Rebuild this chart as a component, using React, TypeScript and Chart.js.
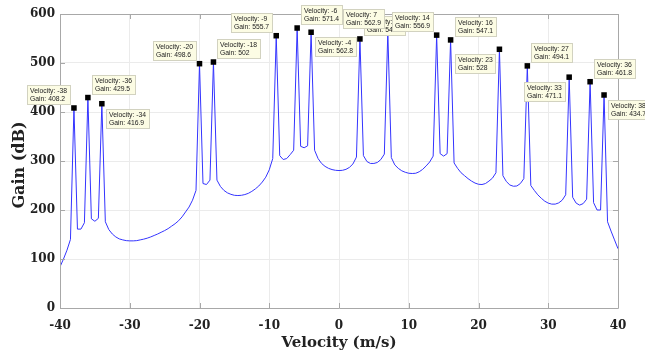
import React, { useEffect, useRef } from "react";
import { Chart, registerables } from "chart.js";

Chart.register(...registerables);

// Velocity samples (m/s)
const velocity = [
  -40, -39.5, -39, -38.5, -38, -37.5, -37, -36.5, -36, -35.5, -35, -34.5, -34, -33.5, -33, -32.5,
  -32, -31.5, -31, -30.5, -30, -29.5, -29, -28.5, -28, -27.5, -27, -26.5, -26, -25.5, -25, -24.5,
  -24, -23.5, -23, -22.5, -22, -21.5, -21, -20.5, -20, -19.5, -19, -18.5, -18, -17.5, -17, -16.5,
  -16, -15.5, -15, -14.5, -14, -13.5, -13, -12.5, -12, -11.5, -11, -10.5, -10, -9.5, -9, -8.5,
  -8, -7.5, -7, -6.5, -6, -5.5, -5, -4.5, -4, -3.5, -3, -2.5, -2, -1.5, -1, -0.5,
  0, 0.5, 1, 1.5, 2, 2.5, 3, 3.5, 4, 4.5, 5, 5.5, 6, 6.5, 7, 7.5,
  8, 8.5, 9, 9.5, 10, 10.5, 11, 11.5, 12, 12.5, 13, 13.5, 14, 14.5, 15, 15.5,
  16, 16.5, 17, 17.5, 18, 18.5, 19, 19.5, 20, 20.5, 21, 21.5, 22, 22.5, 23, 23.5,
  24, 24.5, 25, 25.5, 26, 26.5, 27, 27.5, 28, 28.5, 29, 29.5, 30, 30.5, 31, 31.5,
  32, 32.5, 33, 33.5, 34, 34.5, 35, 35.5, 36, 36.5, 37, 37.5, 38, 38.5, 39, 39.5, 40,
];

// Gain (dB) at each velocity sample
const gain = [
  84, 100, 118, 140, 408.2, 161, 161, 174, 429.5, 182, 177, 183, 416.9, 176, 160, 151,
  145, 141, 139, 137.5, 137, 137, 137.5, 139, 140.5, 142.5, 145, 148, 151, 154.5, 158, 162,
  167, 172, 178, 186, 196, 206, 220, 240, 498.6, 254, 252, 261, 502, 261, 248, 240,
  235, 232, 230, 229.5, 230, 231.5, 234, 238, 243, 249, 257, 267, 282, 305, 555.7, 311,
  303, 305, 313, 322, 571.4, 330, 327, 331, 562.8, 322, 305, 295, 289, 285, 282.5, 281,
  280.5, 281, 283, 287, 294, 308, 549.1, 311, 299, 295, 295, 297, 303, 314, 562.9, 307,
  292, 285, 280, 277, 275, 274.5, 275, 278, 283, 290, 298, 310, 556.9, 315, 310, 315,
  547.1, 296, 285, 276, 270, 264, 259, 255, 252.5, 252, 254, 259, 265, 276, 528, 270,
  258, 251, 248.5, 249, 254, 264, 494.1, 250, 240, 231, 224, 218, 214, 212, 212, 214.5,
  220, 231, 471.1, 226, 214, 210, 213, 222, 461.8, 215, 200, 200, 434.7, 176, 157, 139, 121,
];

// Data tips (marked peaks)
const peakVelocity = [-38, -36, -34, -20, -18, -9, -6, -4, 3, 7, 14, 16, 23, 27, 33, 36, 38];
const peakGain = [408.2, 429.5, 416.9, 498.6, 502, 555.7, 571.4, 562.8, 549.1, 562.9, 556.9, 547.1, 528, 494.1, 471.1, 461.8, 434.7];
// Where each data tip box sits relative to its marker (style only)
const tipPlacement = ["ul", "ur", "lr", "ul", "ur", "ul", "ur", "lr", "ur", "ul", "ul", "ur", "ll", "ur", "ll", "ur", "lr"];

const xTicks = [-40, -30, -20, -10, 0, 10, 20, 30, 40];
const yTicks = [0, 100, 200, 300, 400, 500, 600];

const xTitle = "Velocity (m/s)";
const yTitle = "Gain (dB)";

const TEXT = "#222222";
const AXIS = "#a8a8a8";
const GRID = "#ebebeb";
const LINE = "#3434ff";

const framePlugin = {
  id: "matlabFrame",
  afterDatasetsDraw(chart: any) {
    const { ctx, chartArea } = chart;
    const { left, right, top, bottom } = chartArea;
    const xs = chart.scales.x;
    const ys = chart.scales.y;
    ctx.save();
    ctx.strokeStyle = AXIS;
    ctx.lineWidth = 1;
    ctx.beginPath();
    ctx.rect(Math.round(left) + 0.5, Math.round(top) + 0.5, Math.round(right - left), Math.round(bottom - top));
    const tl = 5;
    xTicks.forEach((v) => {
      const px = Math.round(xs.getPixelForValue(v)) + 0.5;
      ctx.moveTo(px, bottom);
      ctx.lineTo(px, bottom - tl);
      ctx.moveTo(px, top);
      ctx.lineTo(px, top + tl);
    });
    yTicks.forEach((v) => {
      const py = Math.round(ys.getPixelForValue(v)) + 0.5;
      ctx.moveTo(left, py);
      ctx.lineTo(left + tl, py);
      ctx.moveTo(right, py);
      ctx.lineTo(right - tl, py);
    });
    ctx.stroke();
    ctx.restore();
  },
  afterDraw(chart: any) {
    const { ctx, chartArea } = chart;
    const xs = chart.scales.x;
    const ys = chart.scales.y;
    ctx.save();
    // data tips
    ctx.font = "6.8px 'Liberation Sans', Arial, sans-serif";
    const H = 19;
    peakVelocity.forEach((v, i) => {
      const mx = xs.getPixelForValue(v);
      const my = ys.getPixelForValue(peakGain[i]);
      const l1 = "Velocity: " + v;
      const l2 = "Gain: " + peakGain[i];
      const W = Math.ceil(Math.max(ctx.measureText(l1).width, ctx.measureText(l2).width)) + 5;
      const pl = tipPlacement[i];
      const bx = pl[1] === "r" ? mx + 4 : mx - 4 - W;
      const by = pl[0] === "u" ? my - 4 - H : my + 5;
      const rx = Math.round(bx) + 0.5;
      const ry = Math.round(by) + 0.5;
      ctx.fillStyle = "#fcfce4";
      ctx.strokeStyle = "#d2d2c0";
      ctx.lineWidth = 1;
      ctx.fillRect(rx, ry, W, H);
      ctx.strokeRect(rx, ry, W, H);
      ctx.fillStyle = TEXT;
      ctx.textAlign = "left";
      ctx.textBaseline = "middle";
      ctx.fillText(l1, rx + 2.5, ry + 5.5);
      ctx.fillText(l2, rx + 2.5, ry + 13.5);
    });
    // axis titles
    ctx.fillStyle = TEXT;
    ctx.textAlign = "center";
    ctx.textBaseline = "middle";
    ctx.font = "bold 15px 'DejaVu Serif', serif";
    ctx.fillText(xTitle, (chartArea.left + chartArea.right) / 2, chartArea.bottom + 35);
    ctx.translate(20, (chartArea.top + chartArea.bottom) / 2 + 4);
    ctx.rotate(-Math.PI / 2);
    ctx.font = "bold 16px 'DejaVu Serif', serif";
    ctx.fillText(yTitle, 0, 0);
    ctx.restore();
  },
};

export default function App() {
  const ref = useRef<HTMLCanvasElement>(null);
  useEffect(() => {
    document.body.style.margin = "0";
    const canvas = ref.current;
    if (!canvas) return;
    const tickFont = { family: "'DejaVu Serif', serif", size: 12, weight: "bold" as const };
    const chart = new Chart(canvas, {
      type: "scatter",
      data: {
        datasets: [
          {
            label: "Peaks",
            data: peakVelocity.map((v, i) => ({ x: v, y: peakGain[i] })),
            showLine: false,
            pointStyle: "rect",
            pointRadius: 3.9,
            pointHoverRadius: 3.9,
            backgroundColor: "#000000",
            borderColor: "#000000",
            borderWidth: 0,
            order: 1,
          },
          {
            label: "Gain",
            data: velocity.map((v, i) => ({ x: v, y: gain[i] })),
            showLine: true,
            borderColor: LINE,
            borderWidth: 1,
            pointRadius: 0,
            pointHoverRadius: 0,
            tension: 0,
            fill: false,
            order: 2,
          },
        ],
      },
      options: {
        responsive: false,
        animation: false,
        devicePixelRatio: 1,
        layout: { padding: { top: 14, right: 27, left: 0, bottom: 0 } },
        plugins: { legend: { display: false }, tooltip: { enabled: false }, title: { display: false } },
        scales: {
          x: {
            type: "linear",
            min: -40,
            max: 40,
            afterFit: (s: any) => {
              s.height = 50;
            },
            afterBuildTicks: (s: any) => {
              s.ticks = xTicks.map((v) => ({ value: v }));
            },
            ticks: {
              padding: 11,
              font: tickFont,
              color: TEXT,
              maxRotation: 0,
              autoSkip: false,
              callback: (v: any) => String(v),
            },
            grid: { color: GRID, drawTicks: false, lineWidth: 1 },
            border: { display: false },
          },
          y: {
            type: "linear",
            min: 0,
            max: 600,
            afterFit: (s: any) => {
              s.width = 60;
            },
            afterBuildTicks: (s: any) => {
              s.ticks = yTicks.map((v) => ({ value: v }));
            },
            ticks: {
              padding: 5,
              font: tickFont,
              color: TEXT,
              autoSkip: false,
              callback: (v: any) => String(v),
            },
            grid: { color: GRID, drawTicks: false, lineWidth: 1 },
            border: { display: false },
          },
        },
      },
      plugins: [framePlugin],
    });
    return () => chart.destroy();
  }, []);
  return (
    <div style={{ width: 645, height: 358, position: "relative", background: "#ffffff" }}>
      <canvas ref={ref} width={645} height={358} style={{ display: "block" }} />
    </div>
  );
}
